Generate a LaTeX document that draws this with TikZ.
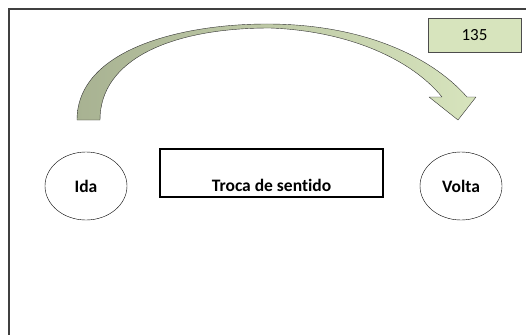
\documentclass[tikz,border=0pt]{standalone}
\usepackage{fontspec}
\setmainfont{Carlito}[Ligatures=NoCommon]
\usetikzlibrary{positioning,shapes.geometric}
\definecolor{verdeclaro}{RGB}{215,228,189}
\definecolor{verdeescuro}{RGB}{168,178,146}
\begin{document}
\begin{tikzpicture}[x=1pt, y=-1pt,
  bola/.style={ellipse, draw, minimum width=82pt, minimum height=68pt, inner sep=0pt,
               font=\bfseries\fontsize{17.5}{21}\selectfont},
  caixa/.style={rectangle, draw, line width=1.6pt, minimum width=223pt, inner sep=0pt,
                text height=42pt, text depth=6pt, font=\bfseries\fontsize{17.5}{21}\selectfont},
  numero/.style={rectangle, draw=black!70, fill=verdeclaro, minimum width=93pt, minimum height=34pt,
                 font=\fontsize{17}{20}\selectfont}]
\clip (0,0) rectangle (526,334);
\draw[line width=1.5pt, black!75] (9,9) rectangle (560,360);
\node[bola](ida) at (86,186){Ida};
\node[caixa, right=32pt of ida, yshift=13pt](troca){Troca de sentido};
\node[bola, right=36pt of troca, yshift=-13pt](volta){Volta};
\node[numero](num) at (474.5,35){135};
\draw[left color=verdeescuro, right color=verdeclaro, draw=black!80, line join=round]
  (77,120) .. controls (77,50) and (180,24) .. (267,24) .. controls (360,24) and (430,55) .. (467,97)
  -- (476,97) -- (458,120) -- (429,97) -- (442,97)
  .. controls (412,60) and (350,31) .. (270,28) .. controls (170,28) and (100,60) .. (100,120) -- cycle;
\end{tikzpicture}
\end{document}
